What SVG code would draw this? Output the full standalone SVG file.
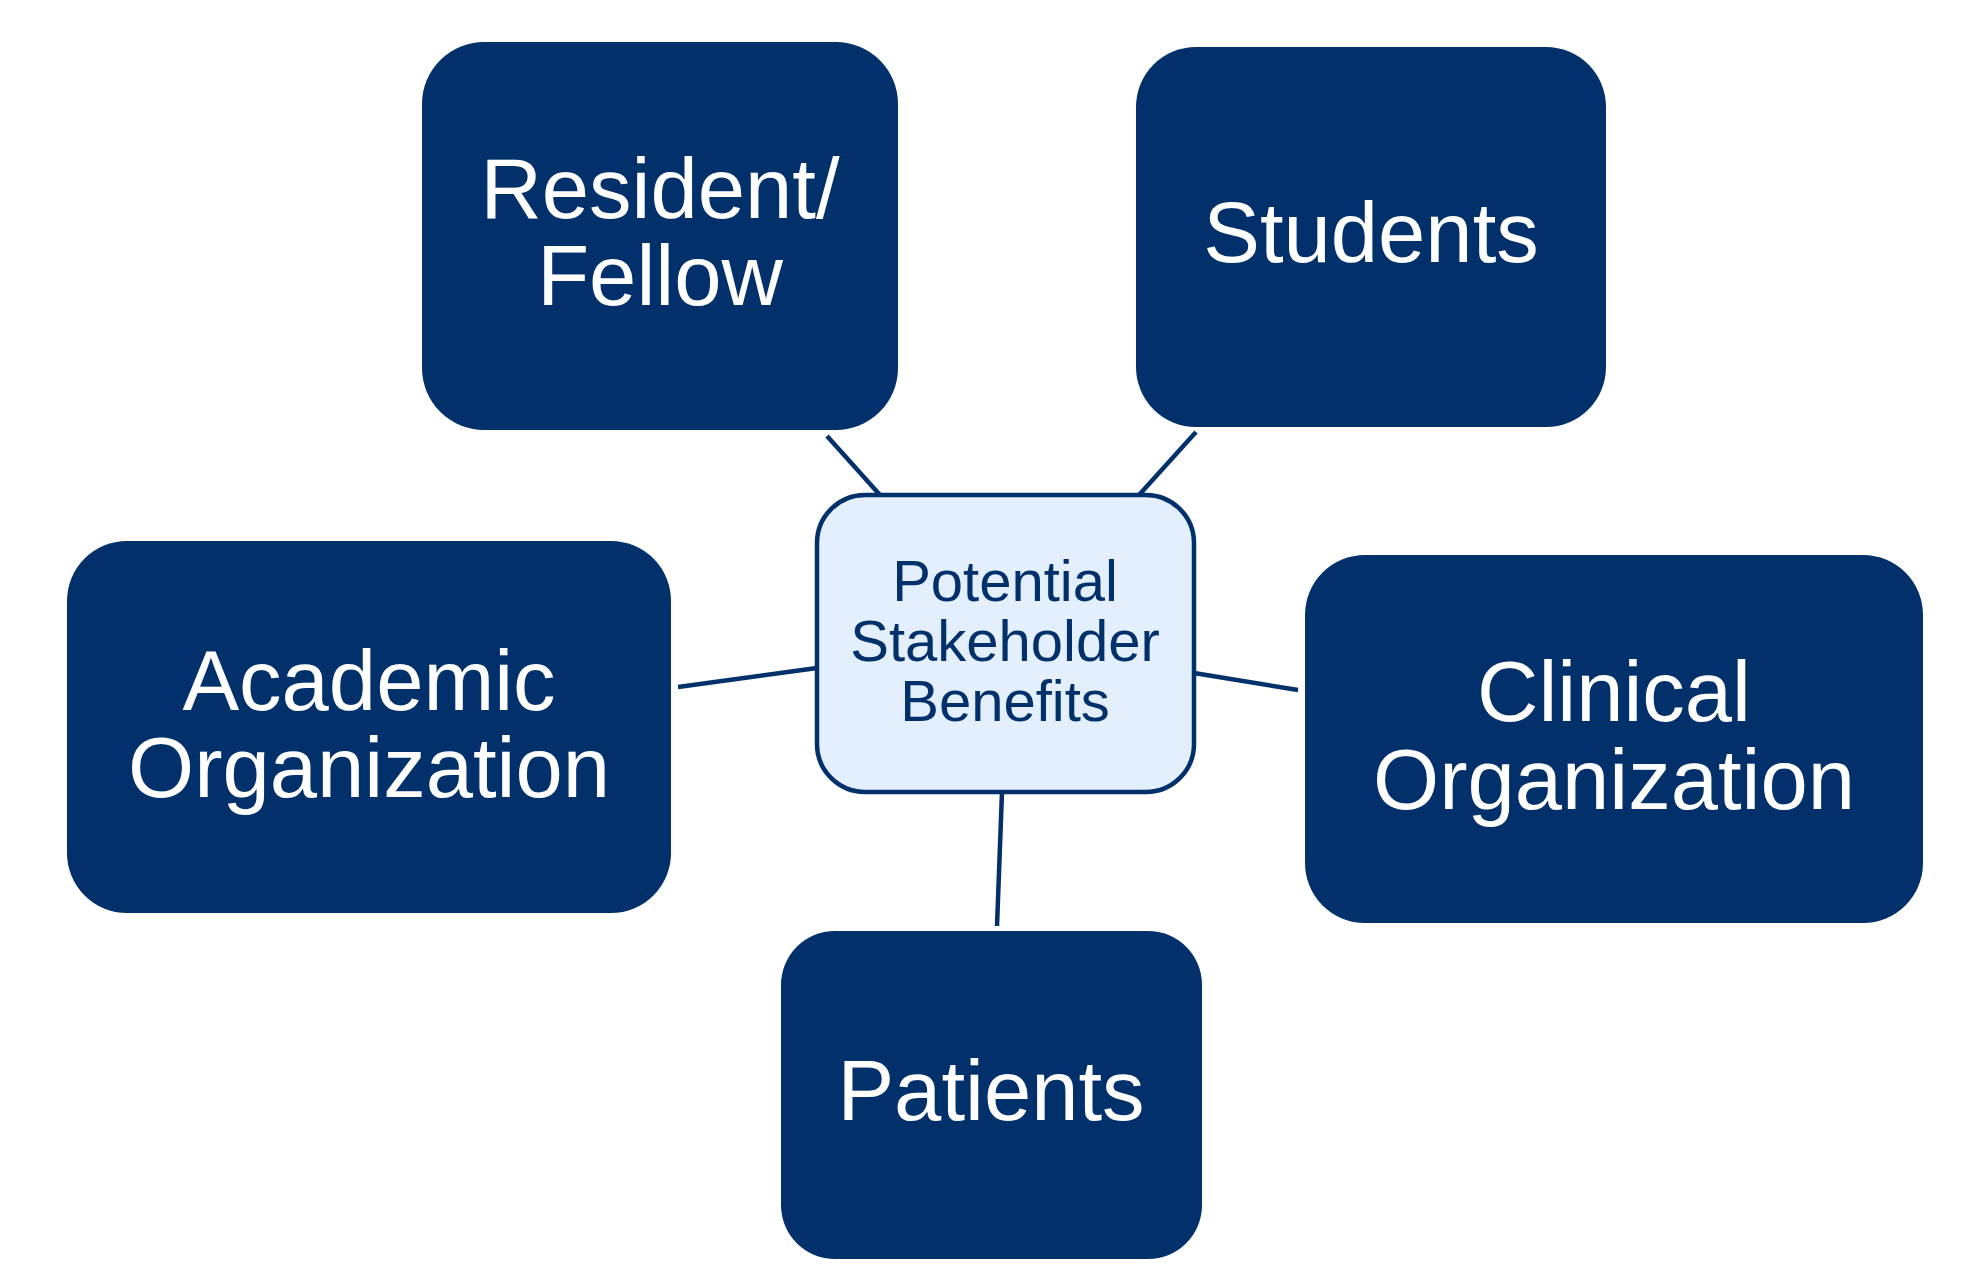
<svg xmlns="http://www.w3.org/2000/svg" width="1988" height="1279" viewBox="0 0 1988 1279">
<style>
.node{fill:#02306B;}
.lbl{font-family:"Liberation Sans",Arial,sans-serif;font-size:85px;fill:#FFFFFF;text-anchor:middle;}
.center{fill:#E3EFFC;stroke:#02306B;stroke-width:4.5;}
.clbl{font-family:"Liberation Sans",Arial,sans-serif;font-size:58px;fill:#02306B;text-anchor:middle;}
.conn line{stroke:#02306B;stroke-width:4.5;}
</style>
<rect width="1988" height="1279" fill="#FFFFFF"/>
<g id="connectors" class="conn">
<line x1="827" y1="436" x2="880" y2="495"/>
<line x1="1196" y1="432" x2="1139" y2="495"/>
<line x1="678" y1="687" x2="817" y2="668"/>
<line x1="1194" y1="673" x2="1298" y2="690"/>
<line x1="1002" y1="792" x2="997" y2="926"/>
</g>
<g id="resident">
<rect class="node" x="422" y="42" width="476" height="388" rx="62"/>
<text class="lbl" x="660" y="218">Resident/</text>
<text class="lbl" x="660" y="305">Fellow</text>
</g>
<g id="students">
<rect class="node" x="1136" y="47" width="470" height="380" rx="60"/>
<text class="lbl" x="1371" y="262">Students</text>
</g>
<g id="academic">
<rect class="node" x="67" y="541" width="604" height="372" rx="60"/>
<text class="lbl" x="369" y="710">Academic</text>
<text class="lbl" x="369" y="797">Organization</text>
</g>
<g id="clinical">
<rect class="node" x="1305" y="555" width="618" height="368" rx="60"/>
<text class="lbl" x="1614" y="721">Clinical</text>
<text class="lbl" x="1614" y="809">Organization</text>
</g>
<g id="patients">
<rect class="node" x="781" y="931" width="421" height="328" rx="54"/>
<text class="lbl" x="991" y="1120">Patients</text>
</g>
<g id="center">
<rect class="center" x="817" y="495" width="377" height="297" rx="48"/>
<text class="clbl" x="1005" y="601">Potential</text>
<text class="clbl" x="1005" y="661">Stakeholder</text>
<text class="clbl" x="1005" y="721">Benefits</text>
</g>
</svg>
